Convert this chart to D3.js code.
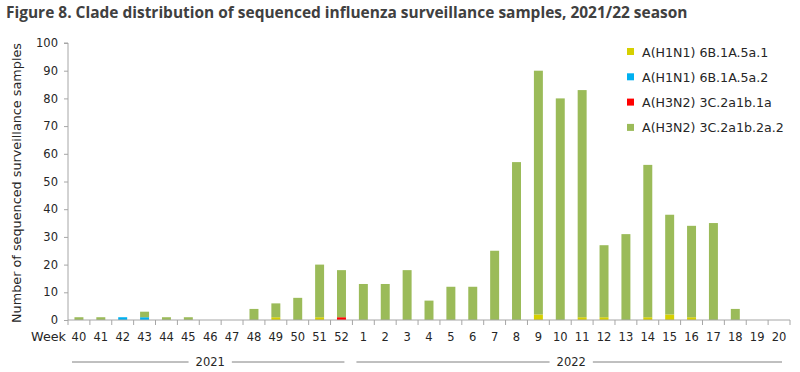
<!DOCTYPE html>
<html><head><meta charset="utf-8">
<script src="https://cdn.jsdelivr.net/npm/d3@7"></script>
<style>body{margin:0;background:#fff}svg{display:block}text{font-family:"DejaVu Sans",sans-serif}</style>
</head><body>
<svg id="c" width="800" height="372"></svg>
<script>
const weeks = ["40","41","42","43","44","45","46","47","48","49","50","51","52","1","2","3","4","5","6","7","8","9","10","11","12","13","14","15","16","17","18","19","20"];
const seriesNames = ["A(H1N1) 6B.1A.5a.1","A(H1N1) 6B.1A.5a.2","A(H3N2) 3C.2a1b.1a","A(H3N2) 3C.2a1b.2a.2"];
const colors = ["#d6d000","#00b0f0","#ff0000","#9bbb59"];
const h1n1_5a1 = [0,0,0,0,0,0,0,0,0,1,0,1,0,0,0,0,0,0,0,0,0,2,0,1,1,0,1,2,1,0,0,0,0];
const h1n1_5a2 = [0,0,1,1,0,0,0,0,0,0,0,0,0,0,0,0,0,0,0,0,0,0,0,0,0,0,0,0,0,0,0,0,0];
const h3n2_1a  = [0,0,0,0,0,0,0,0,0,0,0,0,1,0,0,0,0,0,0,0,0,0,0,0,0,0,0,0,0,0,0,0,0];
const h3n2_2a2 = [1,1,0,2,1,1,0,0,4,5,8,19,17,13,13,18,7,12,12,25,57,88,80,82,26,31,55,36,33,35,4,0,0];
const yTicks = [0,10,20,30,40,50,60,70,80,90,100];
const years = [{label:"2021", from:"40", to:"52"},{label:"2022", from:"1", to:"20"}];

const svg = d3.select("#c");
const m = {l:68, r:790, t:43, b:320};
const x = d3.scaleBand().domain(weeks).range([m.l, m.r]).paddingInner(0.59).paddingOuter(0.295);
const xb = d3.scaleBand().domain(weeks).range([m.l, m.r]);
const y = d3.scaleLinear().domain([0,100]).range([m.b, m.t]);

function fit(sel, target){
  const w = sel.node().getComputedTextLength();
  const cur = parseFloat(sel.style("font-size"));
  sel.style("font-size", (cur*target/w).toFixed(2)+"px");
}

const rows = weeks.map((w,i)=>({w, v:[h1n1_5a1[i],h1n1_5a2[i],h3n2_1a[i],h3n2_2a2[i]]}));
const stack = d3.stack().keys([0,1,2,3]).value((d,k)=>d.v[k]);
const layers = stack(rows);

svg.append("g").selectAll("g").data(layers).join("g")
  .attr("fill",(d,i)=>colors[i])
  .selectAll("rect").data(d=>d).join("rect")
  .attr("x",d=>x(d.data.w)).attr("width",x.bandwidth())
  .attr("y",d=>y(d[1])).attr("height",d=>y(d[0])-y(d[1]));

const axisColor = "#a6a6a6";
// y axis
const ya = svg.append("g").attr("transform",`translate(${m.l},0)`)
  .call(d3.axisLeft(y).tickValues(yTicks).tickSize(4).tickPadding(6));
ya.selectAll("path,line").attr("stroke",axisColor);
ya.selectAll("text").attr("fill","#262626").style("font-size","11.5px").style("font-family","DejaVu Sans, sans-serif");
ya.select(".domain").attr("d",`M-4,${m.t}H0V${m.b}`);

// x axis
const xa = svg.append("g").attr("transform",`translate(0,${m.b})`);
xa.append("line").attr("x1",m.l).attr("x2",m.r).attr("stroke",axisColor);
xa.selectAll(".t").data(weeks.concat(["end"])).join("line")
  .attr("x1",(d,i)=>m.l+i*xb.step()).attr("x2",(d,i)=>m.l+i*xb.step())
  .attr("y1",0).attr("y2",5).attr("stroke",axisColor);
xa.selectAll(".lbl").data(weeks).join("text")
  .attr("x",d=>xb(d)+xb.bandwidth()/2).attr("y",21)
  .attr("text-anchor","middle").attr("fill","#262626").style("font-size","11.5px").text(d=>d);
const wk = xa.append("text").attr("x",m.l-2).attr("y",21).attr("text-anchor","end")
  .attr("fill","#262626").style("font-size","11.5px").text("Week");
fit(wk, 35);

// year lines
years.forEach(yr=>{
  const x0 = xb(yr.from)+4, x1 = xb(yr.to)+xb.bandwidth()-8;
  const cx = (x0+x1)/2 + 2;
  const g = svg.append("g");
  const t = g.append("text").attr("x",cx).attr("y",366).attr("text-anchor","middle")
    .attr("fill","#262626").style("font-size","11.5px").text(yr.label);
  const w = t.node().getComputedTextLength();
  g.append("line").attr("x1",x0).attr("x2",cx-w/2-7).attr("y1",362).attr("y2",362).attr("stroke","#808080");
  g.append("line").attr("x1",cx+w/2+7).attr("x2",x1).attr("y1",362).attr("y2",362).attr("stroke","#808080");
});

// y label
const yl = svg.append("text").attr("transform","translate(21,183) rotate(-90)").attr("text-anchor","middle")
  .attr("fill","#262626").style("font-size","12px").text("Number of sequenced  surveillance samples");
fit(yl, 280);

// title
const ti = svg.append("text").attr("x",6).attr("y",18).attr("fill","#404040")
  .style("font-family","'Open Sans', sans-serif")
  .style("font-size","15px").style("font-weight","bold").text("Figure 8. Clade distribution of sequenced influenza surveillance samples, 2021/22 season");
fit(ti, 682);

// legend
const lg = svg.append("g").selectAll("g").data(seriesNames).join("g")
  .attr("transform",(d,i)=>`translate(627,${52+i*25.3})`);
lg.append("rect").attr("x",0).attr("y",-4).attr("width",7).attr("height",7).attr("fill",(d,i)=>colors[i]);
const lt = lg.append("text").attr("x",15).attr("y",4.5).attr("fill","#262626").style("font-size","12px").text(d=>d);
const longest = d3.select(lt.nodes()[3]);
fit(longest, 142);
lt.style("font-size", longest.style("font-size"));
</script>
</body></html>
